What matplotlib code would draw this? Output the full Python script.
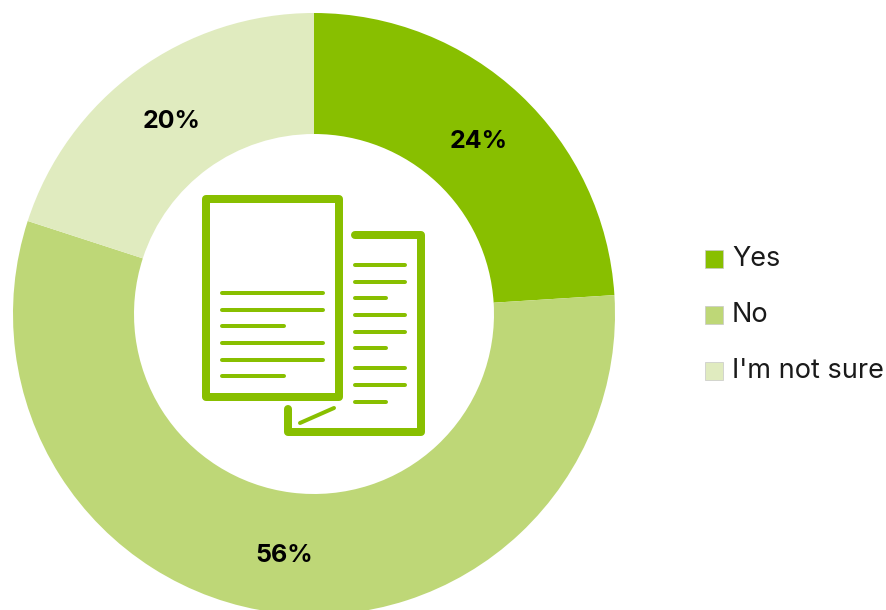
import matplotlib
matplotlib.use("Agg")
import matplotlib.pyplot as plt
from matplotlib.patches import Rectangle

plt.rcParams["font.family"] = ["Inter", "DejaVu Sans"]

categories = ["Yes", "No", "I'm not sure"]
values = [24, 56, 20]
colors = ["#88bf00", "#bed777", "#e0ebbf"]

W, H = 887, 610
ICON = "#88bf00"
PX = 72 / 100  # one pixel in points at this dpi

fig = plt.figure(figsize=(W / 100, H / 100), dpi=100)
ax = fig.add_axes([0, 0, 1, 1])

# y runs downwards, so the angles below go clockwise on screen from 12 o'clock
cx, cy, r = 314, 314, 301
ax.pie(values, colors=colors, startangle=270, counterclock=True,
       center=(cx, cy), radius=r, frame=True,
       wedgeprops=dict(width=r - 180, edgecolor="none"))
ax.set_xlim(0, W)
ax.set_ylim(H, 0)
ax.set_aspect("equal")
ax.axis("off")

for x, y, v in [(479, 142, values[0]), (284, 556, values[1]), (172, 122, values[2])]:
    ax.text(x, y, f"{v}%", ha="center", va="center", fontsize=18,
            fontweight="bold", color="black")

# document icon, back page then front page
ax.plot([355, 421, 421, 288, 288], [235, 235, 432, 432, 409], color=ICON, lw=8 * PX,
        solid_joinstyle="round", solid_capstyle="round")
ax.add_patch(Rectangle((206, 199), 133, 198, fill=False, ec=ICON, lw=8 * PX,
                       joinstyle="round"))
ax.plot([300, 334], [423, 408], color=ICON, lw=4 * PX, solid_capstyle="round")

for y, x2 in zip([293, 310, 326, 343, 360, 376], [323, 323, 284, 323, 323, 284]):
    ax.plot([222, x2], [y, y], color=ICON, lw=4 * PX, solid_capstyle="round")
for y, x2 in zip([265, 282, 298, 315, 332, 348, 368, 385, 402],
                 [405, 405, 386, 405, 405, 386, 405, 405, 386]):
    ax.plot([355, x2], [y, y], color=ICON, lw=4 * PX, solid_capstyle="round")

# legend
for y, label, c in zip([258.5, 314.5, 370.5], categories, colors):
    ax.add_patch(Rectangle((705.5, y - 9), 18, 18, fc=c, ec="#c8c8c8", lw=0.5))
    ax.text(732, y, label, ha="left", va="center", fontsize=19.5, color="#1a1a1a")

fig.savefig("out.png", dpi=100)
